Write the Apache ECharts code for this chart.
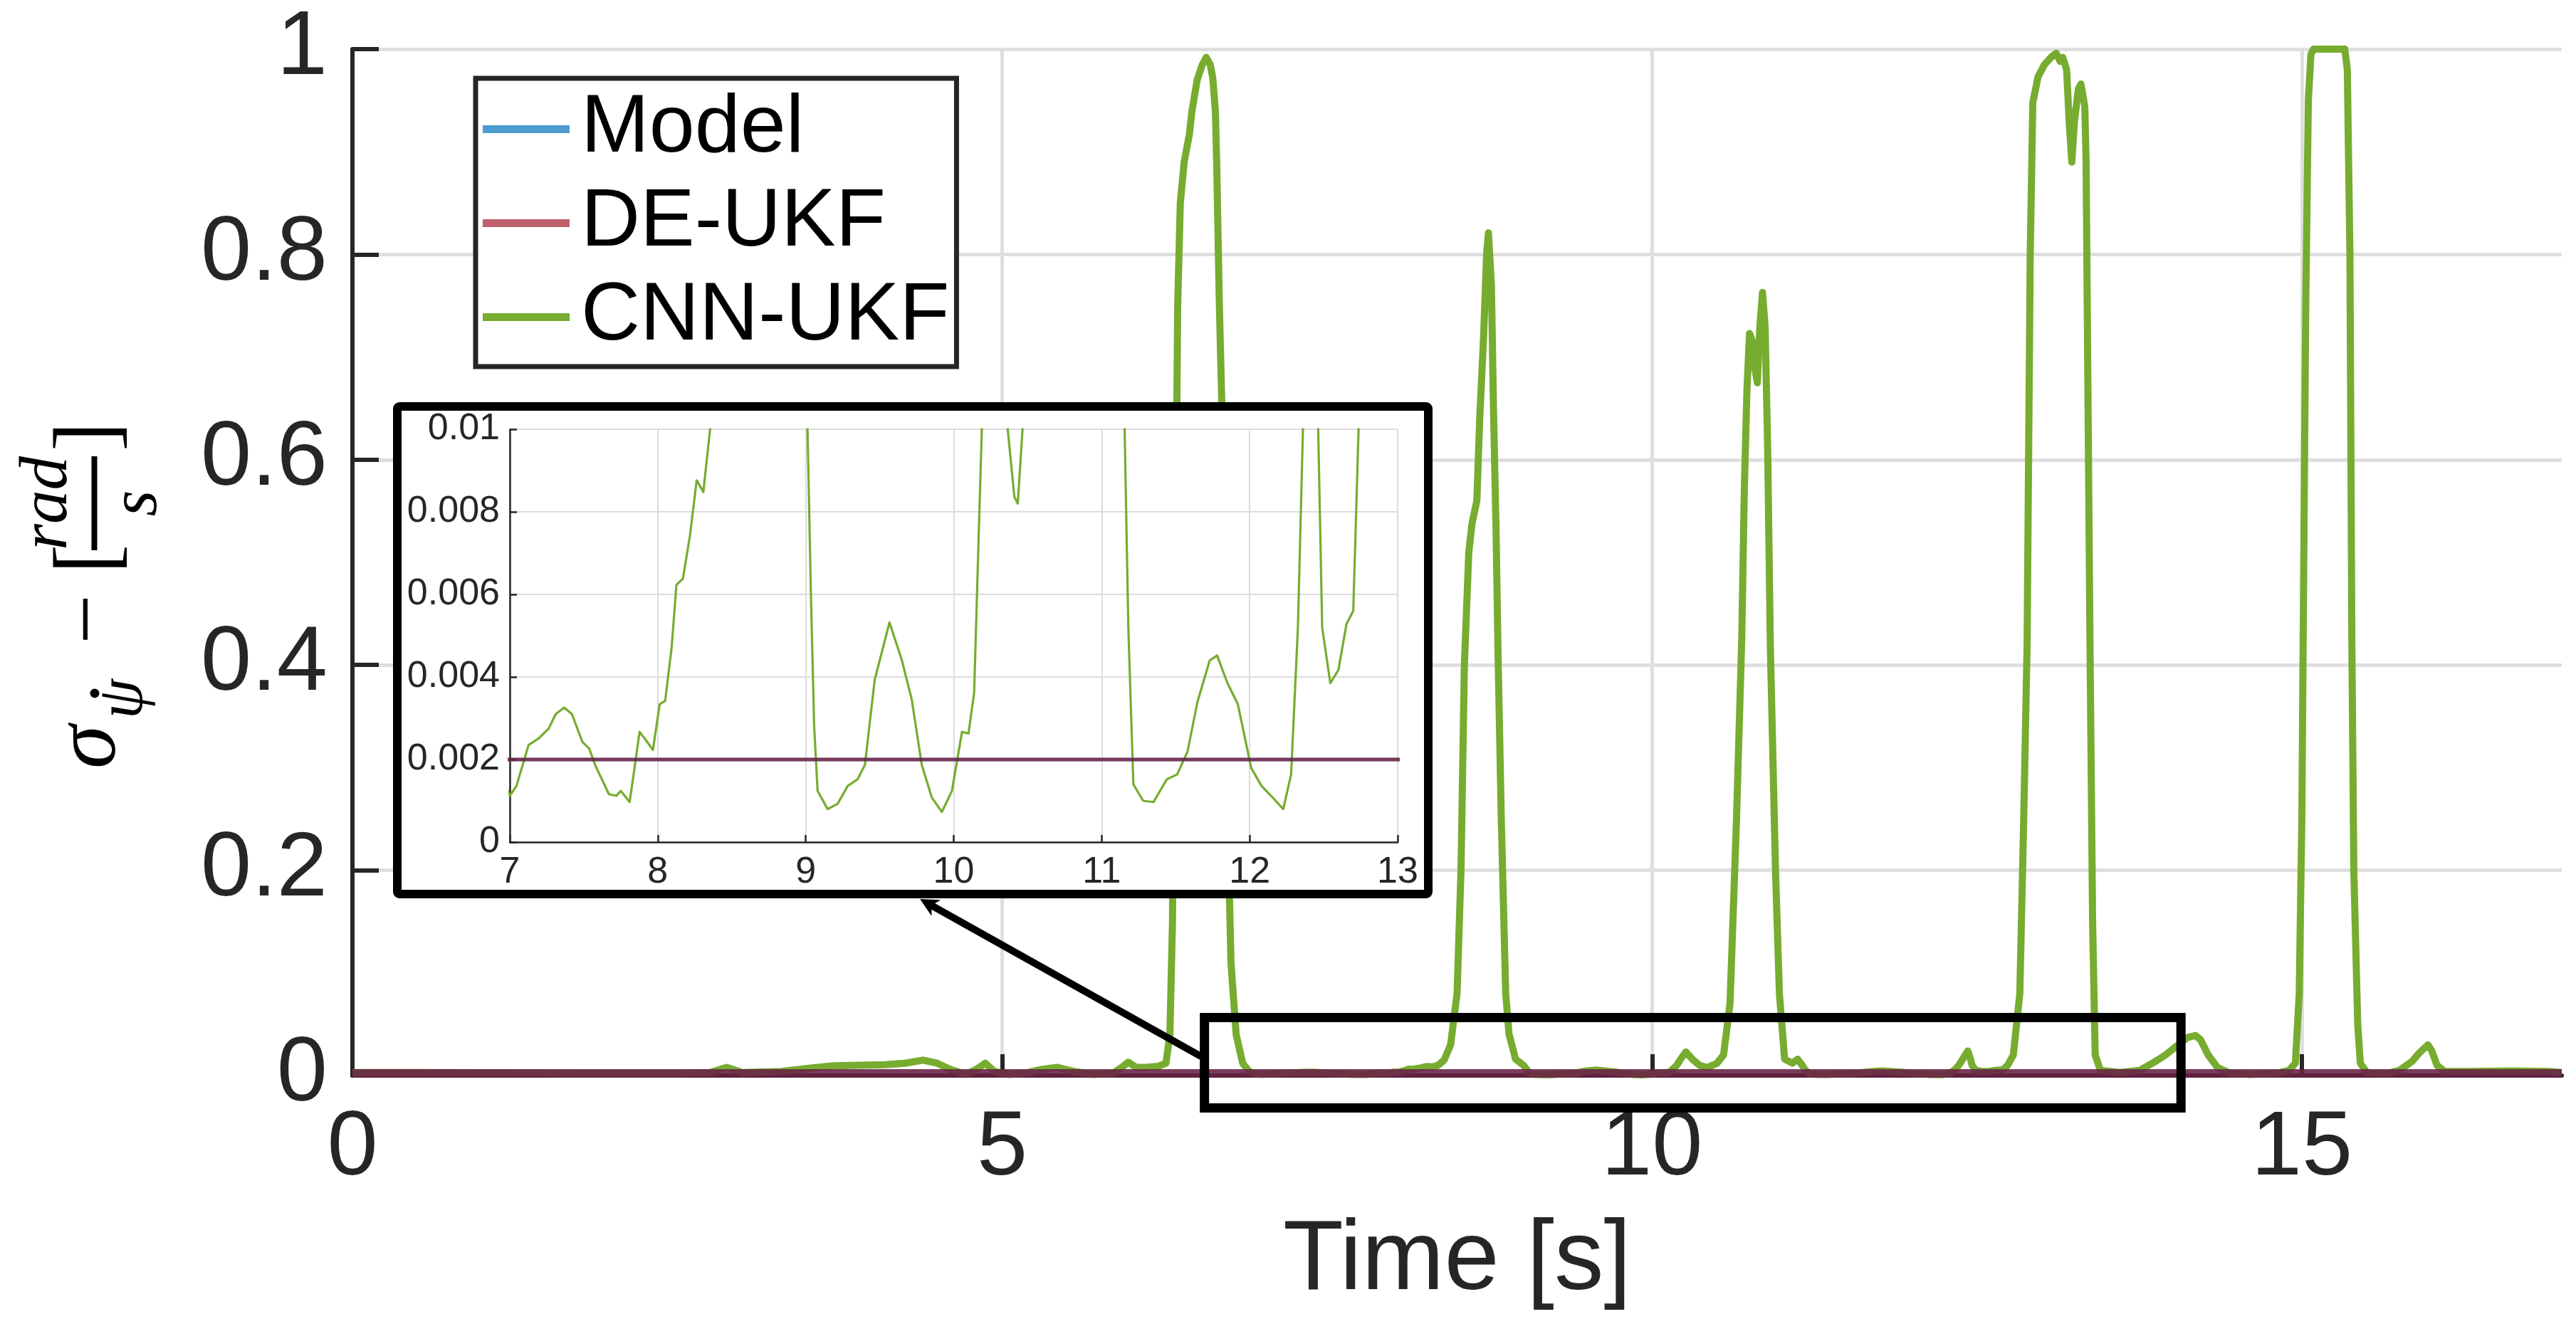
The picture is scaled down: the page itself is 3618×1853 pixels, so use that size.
<!DOCTYPE html>
<html><head><meta charset="utf-8">
<script src="https://cdn.jsdelivr.net/npm/echarts@6/dist/echarts.min.js"></script>
<style>html,body{margin:0;padding:0;background:#fff}#c{width:3618px;height:1853px}</style>
</head><body><div id="c"></div>
<script>
// ---------------- data ----------------
const seriesNames = ['Model', 'DE-UKF', 'CNN-UKF'];

const timeS = [
  0, 0.5, 1.0, 1.5, 2.0, 2.5, 2.75, 2.88, 3.0, 3.3, 3.5, 3.7, 3.9, 4.1, 4.25, 4.39, 4.5, 4.6, 4.72, 4.8,
  4.87, 4.94, 5.05, 5.2, 5.3, 5.42, 5.55, 5.7, 5.85, 5.92, 5.97, 6.03, 6.1, 6.2, 6.26,
  6.29, 6.31, 6.33, 6.35, 6.37, 6.4, 6.44, 6.46, 6.5, 6.54, 6.57, 6.6, 6.62, 6.64, 6.65, 6.67, 6.7, 6.72,
  6.74, 6.76, 6.8, 6.85, 6.9, 6.95,
  7.0, 7.045, 7.127, 7.195, 7.263, 7.31, 7.368, 7.42, 7.49, 7.536, 7.58, 7.67, 7.72, 7.75, 7.81, 7.84,
  7.877, 7.92, 7.967, 8.013, 8.05, 8.094, 8.126, 8.17, 8.217, 8.263, 8.308, 8.353,
  8.4, 8.45, 8.5, 8.53, 8.556, 8.59, 8.615, 8.652, 8.674, 8.704, 8.727, 8.741, 8.764, 8.78, 8.8, 8.815,
  8.84, 8.874, 8.9, 8.95, 8.99, 9.012, 9.035, 9.057, 9.08, 9.148, 9.216, 9.284, 9.35, 9.4, 9.466, 9.566,
  9.65, 9.716, 9.784, 9.852, 9.92, 9.988, 10.056, 10.1, 10.138, 10.17, 10.19, 10.22, 10.26, 10.31, 10.365,
  10.41, 10.433, 10.465, 10.5,
  10.55, 10.6, 10.65, 10.69, 10.71, 10.73, 10.75, 10.77, 10.79, 10.81, 10.83, 10.85, 10.87, 10.89, 10.91,
  10.95, 10.98, 11.02, 11.08, 11.12, 11.155, 11.18, 11.214, 11.28, 11.35, 11.44, 11.51, 11.58, 11.646,
  11.73, 11.78, 11.85, 11.92, 12.01, 12.08, 12.145, 12.227, 12.28, 12.326, 12.36, 12.4, 12.43, 12.45,
  12.463, 12.49, 12.545, 12.6, 12.654, 12.7, 12.736,
  12.78, 12.83, 12.86, 12.886, 12.91, 12.93, 12.97, 13.02, 13.07, 13.11, 13.14, 13.16, 13.19, 13.21, 13.23,
  13.25, 13.28, 13.3, 13.33, 13.34, 13.35, 13.37, 13.39, 13.41, 13.45, 13.6, 13.75, 13.85, 13.95, 14.05,
  14.12, 14.18, 14.22, 14.28, 14.35, 14.45, 14.6, 14.8, 14.9,
  14.95, 14.98, 15.0, 15.01, 15.03, 15.05, 15.07, 15.09, 15.33, 15.35, 15.37, 15.385, 15.4, 15.43, 15.45,
  15.5, 15.65, 15.75, 15.85, 15.9, 15.97, 16.0, 16.04, 16.1, 16.3, 16.6, 16.9, 17.0
];
const cnnUkf = [
  0.003, 0.003, 0.0028, 0.0025, 0.0022, 0.0022, 0.003, 0.008, 0.003, 0.004, 0.007, 0.0095, 0.01, 0.0105, 0.012, 0.015, 0.012, 0.006, 0.001, 0.006,
  0.012, 0.004, 0.001, 0.003, 0.006, 0.008, 0.004, 0.001, 0.002, 0.008, 0.013, 0.008, 0.008, 0.009, 0.012,
  0.04, 0.15, 0.45, 0.75, 0.85, 0.89, 0.917, 0.94, 0.97, 0.985, 0.992, 0.985, 0.972, 0.94, 0.89, 0.755, 0.6, 0.4,
  0.22, 0.11, 0.04, 0.012, 0.004, 0.0016,
  0.00112, 0.00136, 0.00235, 0.00251, 0.00275, 0.0031, 0.00326, 0.0031, 0.00243, 0.00227, 0.00184, 0.00116, 0.00112, 0.00124, 0.00097, 0.00172,
  0.00267, 0.00247, 0.00223, 0.00334, 0.00342, 0.00472, 0.00623, 0.00638, 0.00741, 0.00876, 0.00848, 0.00998,
  0.015, 0.03, 0.08, 0.2, 0.4, 0.51, 0.538, 0.56, 0.64, 0.72, 0.8, 0.821, 0.77, 0.65, 0.53, 0.41,
  0.25, 0.08, 0.04, 0.016, 0.012, 0.01, 0.006, 0.0028, 0.00124, 0.0008, 0.00093, 0.00136, 0.00152, 0.00187, 0.00393, 0.00532,
  0.0044, 0.00346, 0.00187, 0.00108, 0.00073, 0.00124, 0.00267, 0.00263, 0.00362, 0.00757, 0.01, 0.016, 0.023, 0.016, 0.01,
  0.00836, 0.0082, 0.01, 0.012,
  0.02, 0.07, 0.25, 0.424, 0.57, 0.667, 0.723, 0.716, 0.69, 0.675, 0.73, 0.763, 0.73, 0.61, 0.42,
  0.2, 0.08, 0.016, 0.012, 0.016, 0.01, 0.0052, 0.0014, 0.001, 0.00097, 0.00152, 0.00164, 0.00219, 0.00338,
  0.0044, 0.00452, 0.00385, 0.00334, 0.0018, 0.00136, 0.00112, 0.0008, 0.00164, 0.0052, 0.01, 0.018, 0.024, 0.016,
  0.01, 0.0052, 0.00385, 0.00417, 0.00528, 0.0056, 0.01,
  0.02, 0.08, 0.25, 0.42, 0.8, 0.948, 0.973, 0.985, 0.992, 0.996, 0.988, 0.992, 0.98, 0.929, 0.89,
  0.929, 0.961, 0.966, 0.944, 0.89, 0.73, 0.42, 0.15, 0.02, 0.005, 0.003, 0.005, 0.012, 0.02, 0.03,
  0.037, 0.039, 0.035, 0.02, 0.008, 0.002, 0.001, 0.002, 0.005,
  0.012, 0.08, 0.25, 0.42, 0.75, 0.95, 0.995, 1.0, 1.0, 0.98, 0.8, 0.42, 0.2, 0.05, 0.012,
  0.003, 0.002, 0.005, 0.014, 0.0215, 0.03, 0.024, 0.01, 0.004, 0.004, 0.0045, 0.004, 0.003
];
const modelTime = [0, 17];
const modelVal = [0.002, 0.002];
const deUkfTime = [0, 17];
const deUkfVal = [0.002, 0.002];

const xTicks = [0, 5, 10, 15];
const yTickLabels = ['0', '0.2', '0.4', '0.6', '0.8', '1'];
const insetXTicks = [7, 8, 9, 10, 11, 12, 13];
const insetYTickLabels = ['0', '0.002', '0.004', '0.006', '0.008', '0.01'];

// annotation anchors, in main-axis data units
const zoomBox = { x0: 6.556, x1: 14.07, y0: -0.0316, y1: 0.0565 };
const arrowFrom = [6.53, 0.0187];
const arrowTip = [4.367, 0.172];

// ---------------- chart ----------------
const chart = echarts.init(document.getElementById('c'), null, { renderer: 'canvas' });
const pairs = (t, v) => t.map((x, i) => [x, v[i]]);
const cnnPairs = pairs(timeS, cnnUkf);
const modelPairs = pairs(modelTime, modelVal);
const dePairs = pairs(deUkfTime, deUkfVal);

const C_MODEL = 'rgba(0,114,189,0.7)';
const C_DE = 'rgba(150,0,18,0.62)';
const C_CNN = '#77AC30';
const AX = '#262626';
const SANS = '"Liberation Sans", Arial, sans-serif';

function lineSeries(name, data, color, width, idx, z) {
  return {
    name, type: 'line', data, xAxisIndex: idx, yAxisIndex: idx,
    showSymbol: false, symbol: 'none', clip: true, z,
    lineStyle: { color, width, cap: 'butt', join: 'round' },
    itemStyle: { color }, emphasis: { disabled: true }, silent: true
  };
}

chart.setOption({
  animation: false,
  backgroundColor: '#fff',
  grid: [
    { left: 495, right: 20, top: 69, bottom: 342 },
    { left: 716, right: 1655, top: 603, bottom: 670, z: 20 }
  ],
  legend: {
    data: seriesNames,
    orient: 'vertical', left: 668, top: 110,
    icon: 'rect', itemWidth: 122, itemHeight: 11, itemGap: 17,
    padding: [14, 10, 12, 10],
    borderColor: AX, borderWidth: 7, backgroundColor: '#fff',
    selectedMode: false, z: 30,
    textStyle: { fontSize: 115, fontFamily: SANS, color: '#000', padding: [0, 0, 0, 11] }
  },
  xAxis: [
    {
      gridIndex: 0, type: 'value', min: 0, max: 17, interval: 5, z: 0,
      axisLine: { show: true, onZero: false, lineStyle: { color: AX, width: 6 } },
      axisTick: { show: true, inside: true, length: 30, customValues: xTicks, lineStyle: { color: AX, width: 6 } },
      axisLabel: { fontSize: 128, fontFamily: SANS, color: AX, margin: 40, customValues: xTicks },
      splitLine: { show: true, lineStyle: { color: '#DFDFDF', width: 5 } },
      name: 'Time [s]', nameLocation: 'middle', nameGap: 192,
      nameTextStyle: { fontSize: 139, fontFamily: SANS, color: AX }
    },
    {
      gridIndex: 1, type: 'value', min: 7, max: 13, interval: 1, z: 20,
      axisLine: { show: true, onZero: false, lineStyle: { color: AX, width: 2.5 } },
      axisTick: { show: true, inside: true, length: 10, customValues: insetXTicks, lineStyle: { color: AX, width: 2.5 } },
      axisLabel: { fontSize: 52, fontFamily: SANS, color: AX, margin: 17, customValues: insetXTicks },
      splitLine: { show: true, lineStyle: { color: '#DCDCDC', width: 2 } }
    }
  ],
  yAxis: [
    {
      gridIndex: 0, type: 'value', min: 0, max: 1, interval: 0.2, z: 0,
      axisLine: { show: true, onZero: false, lineStyle: { color: AX, width: 6 } },
      axisTick: { show: true, inside: true, length: 37, lineStyle: { color: AX, width: 6 } },
      axisLabel: { fontSize: 128, fontFamily: SANS, color: AX, margin: 35,
        formatter: (v) => yTickLabels[Math.round(v / 0.2)] },
      splitLine: { show: true, lineStyle: { color: '#DFDFDF', width: 5 } }
    },
    {
      gridIndex: 1, type: 'value', min: 0, max: 0.01, interval: 0.002, z: 20,
      axisLine: { show: true, onZero: false, lineStyle: { color: AX, width: 2.5 } },
      axisTick: { show: true, inside: true, length: 10, lineStyle: { color: AX, width: 2.5 } },
      axisLabel: { fontSize: 52, fontFamily: SANS, color: AX, margin: 14,
        formatter: (v) => insetYTickLabels[Math.round(v / 0.002)] },
      splitLine: { show: true, lineStyle: { color: '#DCDCDC', width: 2 } }
    }
  ],
  series: [
    lineSeries('CNN-UKF', cnnPairs, C_CNN, 10, 0, 2),
    lineSeries('Model', modelPairs, C_MODEL, 12, 0, 2),
    lineSeries('DE-UKF', dePairs, C_DE, 12, 0, 2),
    lineSeries('CNN-UKF', cnnPairs, C_CNN, 3.2, 1, 22),
    lineSeries('Model', modelPairs, C_MODEL, 5, 1, 22),
    lineSeries('DE-UKF', dePairs, C_DE, 5, 1, 22)
  ]
});

// ---------------- annotations ----------------
const px = (p) => chart.convertToPixel({ xAxisIndex: 0, yAxisIndex: 0 }, p);
const zA = px([zoomBox.x0, zoomBox.y1]);
const zB = px([zoomBox.x1, zoomBox.y0]);
const aS = px(arrowFrom);
const aT = px(arrowTip);
const dx = aT[0] - aS[0], dy = aT[1] - aS[1];
const L = Math.hypot(dx, dy), ux = dx / L, uy = dy / L, nx = -uy, ny = ux;
const headLen = 26, headHalf = 13;
const base = [aT[0] - ux * headLen, aT[1] - uy * headLen];
const notch = [aT[0] - ux * headLen * 0.72, aT[1] - uy * headLen * 0.72];

const serif = '"Liberation Serif", "DejaVu Serif", serif';
function tx(text, x, y, size, italic, align) {
  return {
    type: 'text', x: 0, y: 0,
    style: {
      text, x, y, fill: '#000',
      font: (italic ? 'italic ' : '') + size + 'px ' + serif,
      align: align || 'left', textAlign: align || 'left',
      verticalAlign: 'middle', textVerticalAlign: 'middle'
    }
  };
}
// baseline b -> middle y = b - 0.31*F
const mid = (b, F) => b - 0.31 * F;

chart.setOption({
  graphic: [
    // inset frame (white background, thick black border)
    { type: 'rect', z: 10, silent: true,
      shape: { x: 558, y: 571, width: 1448, height: 685, r: 3 },
      style: { fill: '#fff', stroke: '#000', lineWidth: 12 } },
    // zoom rectangle in the main axes
    { type: 'rect', z: 12, silent: true,
      shape: { x: zA[0], y: zA[1], width: zB[0] - zA[0], height: zB[1] - zA[1] },
      style: { fill: 'none', stroke: '#000', lineWidth: 13 } },
    // arrow
    { type: 'line', z: 9, silent: true,
      shape: { x1: aS[0], y1: aS[1], x2: notch[0], y2: notch[1] },
      style: { stroke: '#000', lineWidth: 10 } },
    { type: 'polygon', z: 9, silent: true,
      shape: { points: [aT, [base[0] + nx * headHalf, base[1] + ny * headHalf], notch,
                        [base[0] - nx * headHalf, base[1] - ny * headHalf]] },
      style: { fill: '#000' } },
    // y-axis title: sigma_{psi-dot} - [rad / s], rotated
    { type: 'group', x: 167, y: 1080, rotation: Math.PI / 2, z: 5, silent: true,
      children: [
        tx('σ', 0, mid(0, 124), 124, true),
        tx('ψ', 70, mid(36, 90), 90, true),
        { type: 'circle', shape: { cx: 106, cy: -34, r: 6.5 }, style: { fill: '#000' } },
        tx('−', 175, mid(0, 124), 124, false),
        tx('[', 274, mid(0, 124), 124, false),
        { type: 'rect', shape: { x: 307, y: -38.5, width: 132, height: 8 }, style: { fill: '#000' } },
        tx('rad', 373, mid(-70, 95), 95, true, 'center'),
        tx('s', 373, mid(56, 95), 95, true, 'center'),
        tx(']', 446, mid(0, 124), 124, false)
      ] }
  ]
});
</script>
</body></html>
